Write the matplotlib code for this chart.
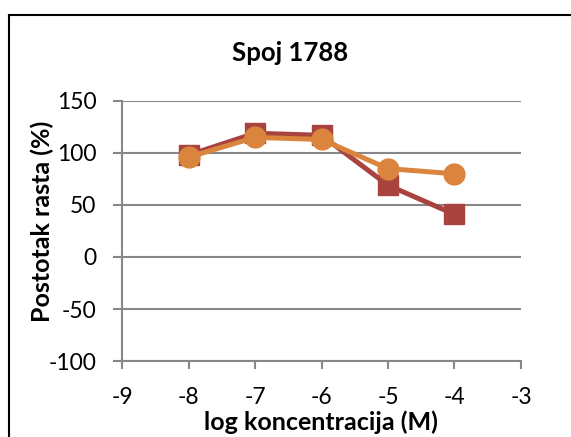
import matplotlib
matplotlib.use("Agg")
import matplotlib.pyplot as plt
from matplotlib.lines import Line2D

plt.rcParams['font.family'] = ['Lato', 'DejaVu Sans']

log_conc = [-8, -7, -6, -5, -4]
serija_1 = [98, 119, 117, 69, 41]
serija_2 = [96, 115, 113, 85, 80]
x_ticks = [-9, -8, -7, -6, -5, -4, -3]
y_ticks = [-100, -50, 0, 50, 100, 150]

crvena = '#A8433F'
narancasta = '#DB843D'
siva = '#878787'

fig = plt.figure(figsize=(5.71, 4.37), dpi=100)
ax = fig.add_axes([0.2137, 0.1739, 0.6987, 0.5950])

ax.plot(log_conc, serija_1, color=crvena, lw=3.6, marker='s', ms=14.5,
        solid_joinstyle='round', zorder=3)
ax.plot(log_conc, serija_2, color=narancasta, lw=3.6, marker='o', ms=15,
        solid_joinstyle='round', zorder=4)

ax.set_xlim(-9, -3)
ax.set_ylim(-100, 150)
ax.set_xticks(x_ticks)
ax.set_yticks(y_ticks)
ax.set_xticklabels([str(t) for t in x_ticks])
ax.set_yticklabels([str(t) for t in y_ticks])
ax.yaxis.grid(True, color=siva, lw=1.5)
ax.set_axisbelow(True)

for s in ['top', 'right']:
    ax.spines[s].set_visible(False)
for s in ['left', 'bottom']:
    ax.spines[s].set_color(siva)
    ax.spines[s].set_linewidth(1.5)

ax.tick_params(axis='both', colors=siva, width=1.5, labelsize=16.5,
               labelcolor='black')
ax.tick_params(axis='x', length=6, pad=13)
ax.tick_params(axis='y', length=6.5, pad=12)

fig.text(0.562, 0.034, 'log koncentracija (M)', fontsize=18, fontweight='bold',
         ha='center', va='center')
fig.text(0.074, 0.494, 'Postotak rasta (%)', fontsize=18, fontweight='bold',
         ha='center', va='center', rotation=90)
fig.text(0.508, 0.879, 'Spoj 1788', fontsize=18.5, fontweight='bold',
         ha='center', va='center')

# okvir grafikona (odrezan desno i dolje)
fig.add_artist(Line2D([8.5 / 571, 8.5 / 571], [0, 1 - 15 / 437],
                      color='black', lw=1.5, transform=fig.transFigure))
fig.add_artist(Line2D([8.5 / 571, 1], [1 - 15 / 437, 1 - 15 / 437],
                      color='black', lw=1.5, transform=fig.transFigure))

fig.savefig('out.png', dpi=100)
